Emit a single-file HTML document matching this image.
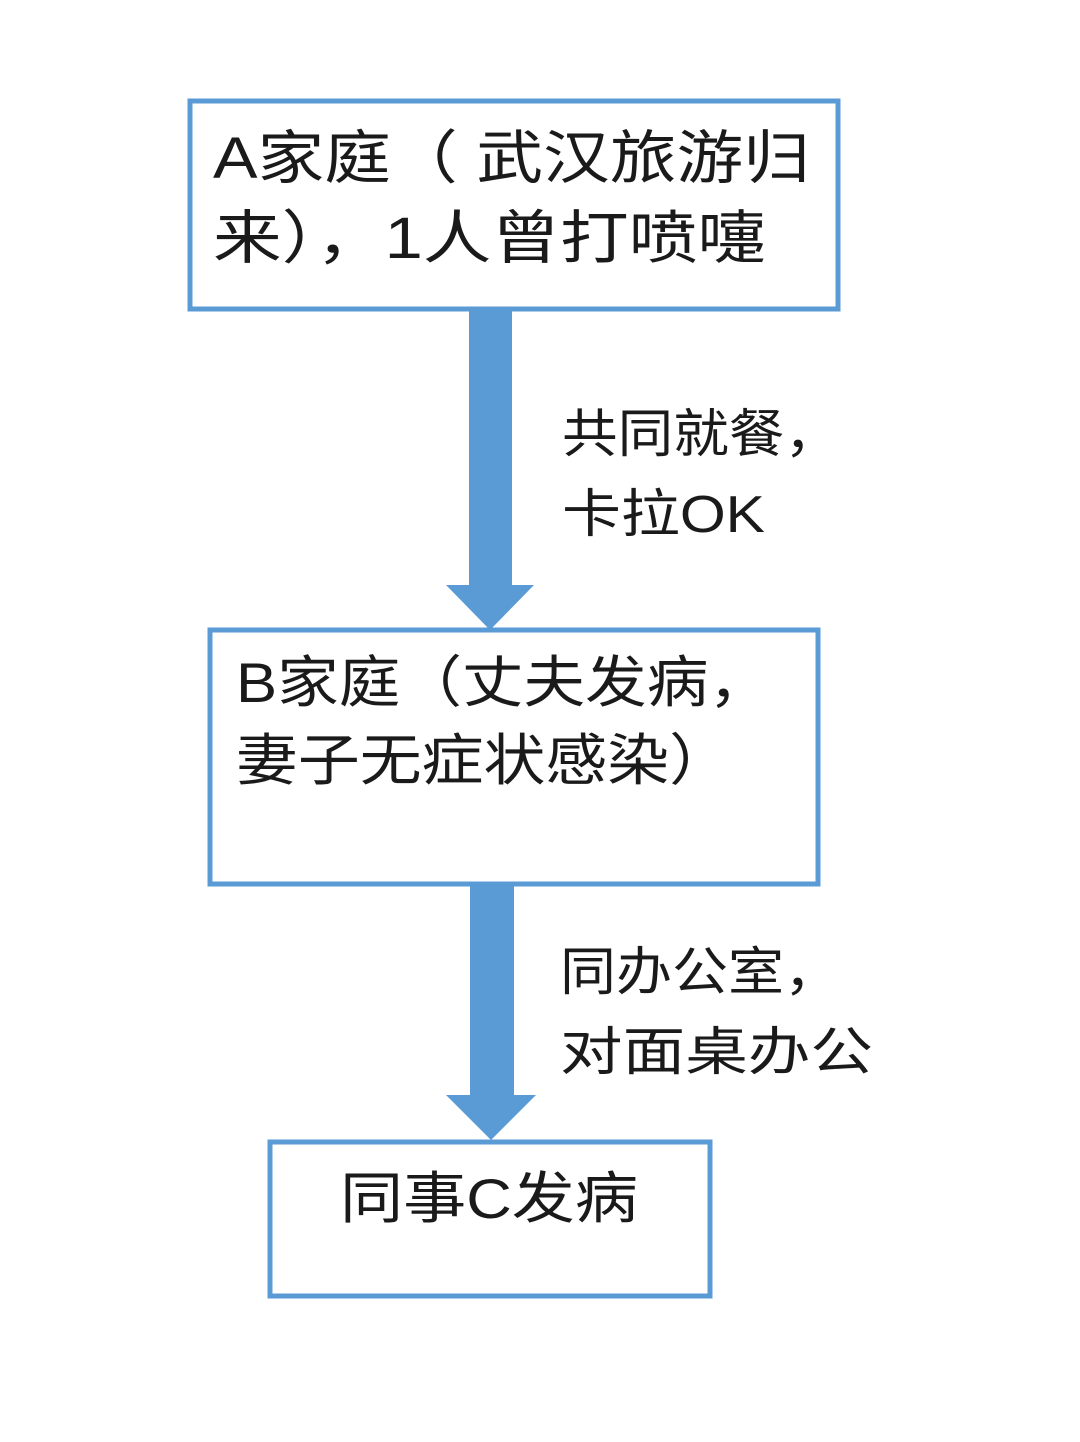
<!DOCTYPE html>
<html><head><meta charset="utf-8"><style>
html,body{margin:0;padding:0;background:#fff;}
svg{display:block;}
text{font-family:"Liberation Sans","Noto Sans CJK SC",sans-serif;fill:#1a1a1a;}
</style></head><body>
<svg width="1080" height="1442" viewBox="0 0 1080 1442">
<rect x="190" y="101" width="648" height="208" fill="#fff" stroke="#5b9bd5" stroke-width="5"/>
<rect x="210" y="630" width="608" height="254" fill="#fff" stroke="#5b9bd5" stroke-width="5"/>
<rect x="270" y="1142" width="440" height="154" fill="#fff" stroke="#5b9bd5" stroke-width="5"/>
<polygon points="469,311 512,311 512,585 534,585 490,630 446,585 469,585" fill="#5b9bd5"/>
<polygon points="470,886 514,886 514,1095 536,1095 491,1140 446,1095 470,1095" fill="#5b9bd5"/>
<text x="213" y="178" font-size="58" textLength="597" lengthAdjust="spacingAndGlyphs">A家庭（ 武汉旅游归</text>
<text x="213" y="258" font-size="58" textLength="553" lengthAdjust="spacingAndGlyphs">来），1人曾打喷嚏</text>
<text x="236" y="702" font-size="56" textLength="534" lengthAdjust="spacingAndGlyphs">B家庭（丈夫发病，</text>
<text x="236" y="780" font-size="56" textLength="495" lengthAdjust="spacingAndGlyphs">妻子无症状感染）</text>
<text x="340" y="1218" font-size="56" textLength="298" lengthAdjust="spacingAndGlyphs">同事C发病</text>
<text x="562" y="452" font-size="52" textLength="278" lengthAdjust="spacingAndGlyphs">共同就餐，</text>
<text x="562" y="532" font-size="52" textLength="203" lengthAdjust="spacingAndGlyphs">卡拉OK</text>
<text x="560" y="990" font-size="52" textLength="280" lengthAdjust="spacingAndGlyphs">同办公室，</text>
<text x="560" y="1070" font-size="52" textLength="313" lengthAdjust="spacingAndGlyphs">对面桌办公</text>
</svg>
</body></html>
